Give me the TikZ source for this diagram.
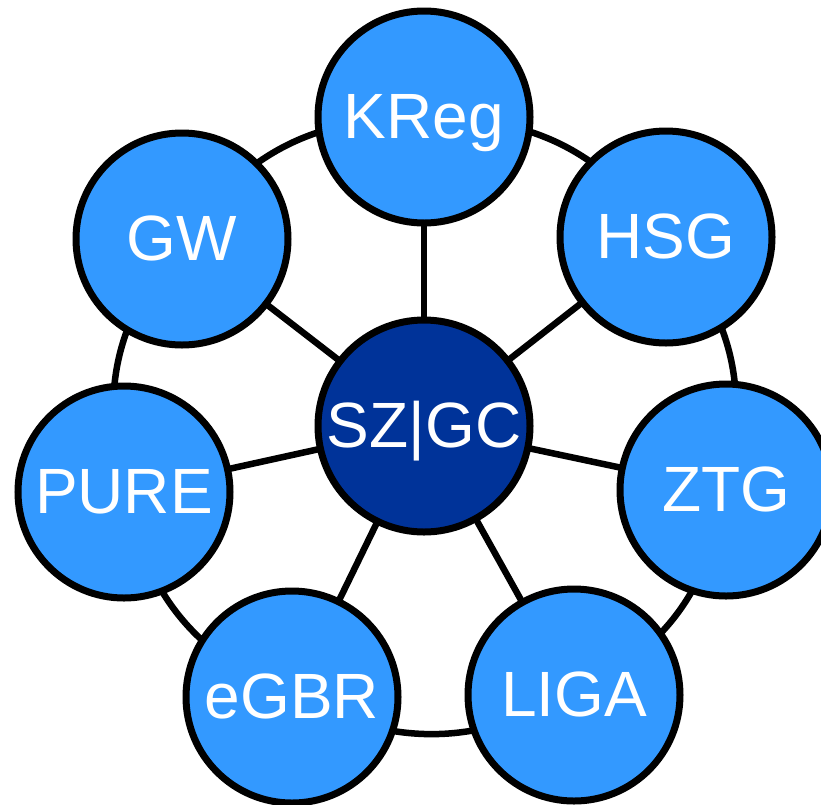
\documentclass[tikz,border=0pt]{standalone}
\usepackage{fontspec}
\setmainfont{Liberation Sans}
\usetikzlibrary{backgrounds}
\definecolor{lightb}{RGB}{51,153,255}
\definecolor{darkb}{RGB}{0,51,153}
\tikzset{
  outer/.style={circle, draw=black, line width=7pt, fill=lightb, minimum size=212pt, inner sep=0pt, text=white, font=\fontsize{64}{64}\selectfont, text height=45pt, text depth=3pt},
  hub/.style={outer, fill=darkb},
  conn/.style={draw=black, line width=6.5pt},
}
\begin{document}
\begin{tikzpicture}[x=1pt, y=-1pt]
\useasboundingbox (0,0) rectangle (821,804);
\node[hub]   (c) at (424,426) {SZ|GC};
\node[outer] (k) at (424,117) {KReg};
\node[outer] (h) at (666,237) {HSG};
\node[outer] (z) at (726,490) {ZTG};
\node[outer] (l) at (574,695) {LIGA};
\node[outer] (e) at (292,697) {eGBR};
\node[outer] (p) at (124,492) {PURE};
\node[outer] (g) at (182,239) {GW};
\begin{scope}[on background layer]
  \foreach \n in {k,h,z,l,e,p,g} \draw[conn] (c.center) -- (\n.center);
  \foreach \a/\b in {k/h,h/z,z/l,l/e,e/p,p/g,g/k}
    \draw[conn] (\a.center) to[bend left=26, looseness=1.05] (\b.center);
\end{scope}
\end{tikzpicture}
\end{document}
